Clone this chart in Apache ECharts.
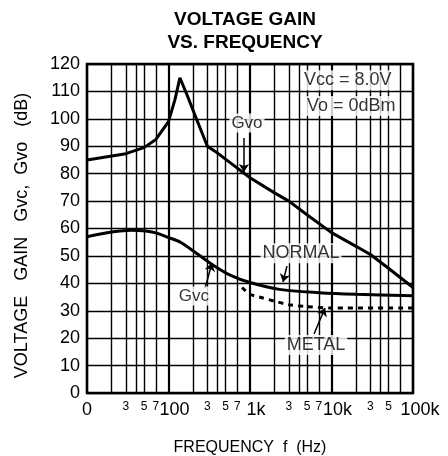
<!DOCTYPE html>
<html>
<head>
<meta charset="utf-8">
<script src="https://cdn.jsdelivr.net/npm/echarts@6/dist/echarts.min.js"></script>
<style>
  html, body { margin: 0; padding: 0; background: #fff; }
  #chart { width: 448px; height: 456px; }
</style>
</head>
<body>
<div id="chart"></div>
<script>
// values (frequency in Hz, gain in dB)
const freqGvo = [10, 30, 50, 70, 100, 120, 138, 170, 220, 300, 400, 500, 1000, 2000, 3000, 5000, 10000, 20000, 30000, 50000, 100000];
const gainGvo = [85, 87.3, 89.5, 92.5, 99, 107, 115, 108.5, 100, 90, 87.5, 85.3, 78.5, 73, 70, 65, 58.5, 53.5, 50.5, 45.5, 38.5];

const freqNormal = [10, 20, 35, 55, 70, 100, 140, 220, 350, 570, 1000, 2300, 7000, 20000, 100000];
const gainNormal = [57, 58.7, 59.4, 59, 58.4, 56.7, 55, 51, 46.7, 43, 40.3, 37.8, 36.6, 36, 35.5];

const freqMetal = [800, 1000, 1300, 2000, 3000, 5000, 10000, 100000];
const gainMetal = [38.5, 36, 35, 33.5, 32.2, 31.5, 31, 31];

const tickFreqs = [10, 30, 50, 70, 100, 300, 500, 700, 1000, 3000, 5000, 7000, 10000, 30000, 50000, 70000, 100000];
const tickLabels = ["0", "3", "5", "7", "100", "3", "5", "7", "1k", "3", "5", "7", "10k", "3", "5", "7", "100k"];
const decadeFreqs = [10, 100, 1000, 10000, 100000];
const minorFreqs = [20, 30, 40, 50, 70, 200, 300, 400, 500, 700, 2000, 3000, 4000, 5000, 7000, 20000, 30000, 40000, 50000, 70000];

const noteTexts = ["Gvo", "NORMAL", "METAL", "Gvc"];
const noteFreqs = [918, 4230, 6460, 205];
const noteGains = [98.5, 51, 17.5, 35.4];

const condTexts = ["Vcc = 8.0V", "Vo = 0dBm"];
const condFreqs = [4350, 4730];
const condGains = [114.1, 104.7];

// arrows: [fromFreq, fromGain, toFreq, toGain]
const arrows = [
  [843, 93, 843, 80.6],
  [2840, 46.3, 2540, 40.5],
  [6100, 21.5, 8330, 31],
  [281, 38.3, 342, 47.4]
];

const lg = f => Math.log10(f);
const pts = (fs, gs) => fs.map((f, i) => [lg(f), gs[i]]);
const FONT = "Liberation Sans";

const labelFor = v => {
  const f = Math.round(Math.pow(10, v));
  const i = tickFreqs.indexOf(f);
  if (i < 0) return "";
  const t = tickLabels[i];
  if (f === 10) return "{z|" + t + "}";
  if (f === 100000) return "{e|" + t + "}";
  return decadeFreqs.includes(f) ? "{d|" + t + "}" : "{s|" + t + "}";
};

const chart = echarts.init(document.getElementById("chart"));

chart.setOption({
  animation: false,
  textStyle: { fontFamily: FONT, color: "#000" },
  graphic: [{
    type: "text",
    x: 245,
    y: 8,
    style: {
      text: "VOLTAGE GAIN\nVS. FREQUENCY",
      font: "bold 19px " + FONT,
      lineHeight: 23,
      align: "center",
      fill: "#000"
    }
  }],
  grid: {
    left: 87, right: 35, top: 64, bottom: 63,
    outerBoundsMode: "none",
    show: true, borderColor: "#000", borderWidth: 2.5
  },
  xAxis: [
    {
      type: "value",
      min: 1,
      max: 5,
      axisLine: { show: false },
      axisTick: { show: false, customValues: decadeFreqs.map(lg) },
      splitLine: { show: true, lineStyle: { color: "#000", width: 2.2 } },
      axisLabel: {
        customValues: tickFreqs.map(lg),
        showMinLabel: true,
        showMaxLabel: true,
        hideOverlap: false,
        margin: 8,
        color: "#000",
        formatter: labelFor,
        rich: {
          z: { fontSize: 18, fontFamily: FONT },
          d: { fontSize: 18, fontFamily: FONT, padding: [0, 0, 0, 12] },
          e: { fontSize: 18, fontFamily: FONT, padding: [0, 0, 0, 14] },
          s: { fontSize: 12, fontFamily: FONT, padding: [0, 0, 5, 0] }
        }
      },
      name: "FREQUENCY  f  (Hz)",
      nameLocation: "middle",
      nameGap: 47,
      nameTextStyle: { fontSize: 16, fontFamily: FONT, color: "#000" }
    },
    {
      type: "value",
      min: 1,
      max: 5,
      position: "bottom",
      axisLine: { show: false },
      axisTick: { show: false, customValues: minorFreqs.map(lg) },
      axisLabel: { show: false },
      splitLine: { show: true, lineStyle: { color: "#000", width: 1.4 } }
    }
  ],
  yAxis: {
    type: "value",
    min: 0,
    max: 120,
    interval: 10,
    axisLine: { show: false },
    axisTick: { show: false },
    axisLabel: { fontSize: 18, color: "#000", margin: 7, fontFamily: FONT },
    splitLine: { lineStyle: { color: "#000", width: 1.4 } },
    name: "VOLTAGE   GAIN   Gvc,  Gvo   (dB)",
    nameLocation: "middle",
    nameRotate: 90,
    nameGap: 56,
    nameTextStyle: { fontSize: 18, fontFamily: FONT, color: "#000", padding: [0, 14, 0, 0] }
  },
  series: [
    {
      name: "Gvo",
      type: "line",
      data: pts(freqGvo, gainGvo),
      showSymbol: false,
      lineStyle: { color: "#000", width: 3 }
    },
    {
      name: "NORMAL",
      type: "line",
      data: pts(freqNormal, gainNormal),
      showSymbol: false,
      smooth: 0.3,
      lineStyle: { color: "#000", width: 3 }
    },
    {
      name: "METAL",
      type: "line",
      data: pts(freqMetal, gainMetal),
      showSymbol: false,
      smooth: 0.3,
      lineStyle: { color: "#000", width: 3, type: [5, 5] }
    },
    {
      name: "notes",
      type: "scatter",
      symbolSize: 0,
      silent: true,
      z: 10,
      data: noteTexts.map((t, i) => ({
        value: [lg(noteFreqs[i]), noteGains[i]],
        label: {
          show: true,
          position: "inside",
          formatter: t,
          fontSize: t.length > 3 ? 18 : 17,
          fontFamily: FONT,
          color: "#000",
          backgroundColor: "#fff",
          padding: [1, 2]
        }
      })).concat(condTexts.map((t, i) => ({
        value: [lg(condFreqs[i]), condGains[i]],
        label: {
          show: true,
          position: "right",
          distance: 0,
          formatter: t,
          fontSize: 18,
          fontFamily: FONT,
          color: "#000",
          backgroundColor: "#fff",
          padding: [1, 2]
        }
      }))),
      markLine: {
        silent: true,
        symbol: ["none", "arrow"],
        symbolSize: 8,
        label: { show: false },
        lineStyle: { color: "#000", width: 1.5, type: "solid" },
        data: arrows.map(a => [
          { coord: [lg(a[0]), a[1]] },
          { coord: [lg(a[2]), a[3]] }
        ])
      }
    }
  ]
});
</script>
</body>
</html>
